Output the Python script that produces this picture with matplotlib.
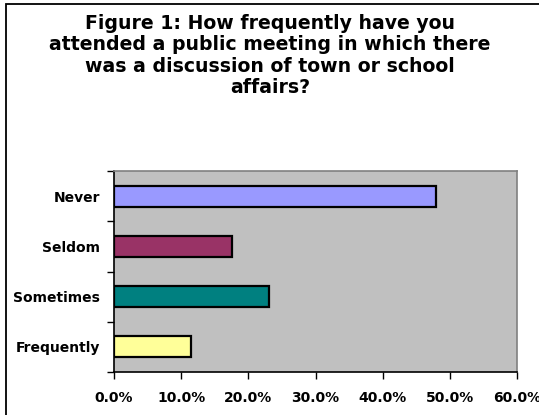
import matplotlib
matplotlib.use("Agg")
import matplotlib.pyplot as plt
from matplotlib.patches import Rectangle
from matplotlib.ticker import FixedLocator, FuncFormatter

categories = ["Never", "Seldom", "Sometimes", "Frequently"]
values = [47.9, 17.5, 23.1, 11.4]
colors = ["#9999FF", "#993366", "#008080", "#FFFF99"]
x_ticks = [0, 10, 20, 30, 40, 50, 60]
title = ("Figure 1: How frequently have you\n"
         "attended a public meeting in which there\n"
         "was a discussion of town or school\n"
         "affairs?")

plt.rcParams['font.family'] = ['DejaVu Sans']
plt.rcParams['font.weight'] = 'bold'

fig = plt.figure(figsize=(5.39, 4.15), dpi=100)
fig.patch.set_facecolor("white")

# outer chart border (right/bottom are cut off in the original)
fig.add_artist(Rectangle((6 / 539, -0.05), 1.2, (415 - 4) / 415 + 0.05,
                         transform=fig.transFigure, fill=False,
                         edgecolor="black", linewidth=1.3))

ax = fig.add_axes([114 / 539, (415 - 372) / 415, (517 - 114) / 539, (372 - 171) / 415])
ax.set_facecolor("#C0C0C0")

ypos = list(range(len(categories)))
ax.barh(ypos, values, height=0.42, color=colors, edgecolor="black", linewidth=1.6, zorder=3)

ax.set_xlim(0, 60)
ax.set_ylim(len(categories) - 0.5, -0.5)

ax.set_xticks(x_ticks)
ax.xaxis.set_major_formatter(FuncFormatter(lambda v, p: f"{v:.1f}%"))
ax.tick_params(axis="x", direction="out", length=5, width=1, pad=9, labelsize=10)

# ticks between categories, labels at category centres
ax.yaxis.set_major_locator(FixedLocator([i - 0.5 for i in range(len(categories) + 1)]))
ax.yaxis.set_major_formatter(FuncFormatter(lambda v, p: ""))
ax.yaxis.set_minor_locator(FixedLocator(ypos))
ax.set_yticklabels(categories, minor=True)
ax.tick_params(axis="y", which="major", direction="out", length=5, width=1)
ax.tick_params(axis="y", which="minor", length=0, pad=10, labelsize=10)

for s in ["left", "bottom"]:
    ax.spines[s].set_color("black")
    ax.spines[s].set_linewidth(1.2)
for s in ["top", "right"]:
    ax.spines[s].set_color("#808080")
    ax.spines[s].set_linewidth(1.2)

fig.text(270 / 539, 1 - 14 / 415, title, ha="center", va="top",
         fontsize=13.6, fontweight="bold", linespacing=1.15)

fig.savefig("out.png", dpi=100)
